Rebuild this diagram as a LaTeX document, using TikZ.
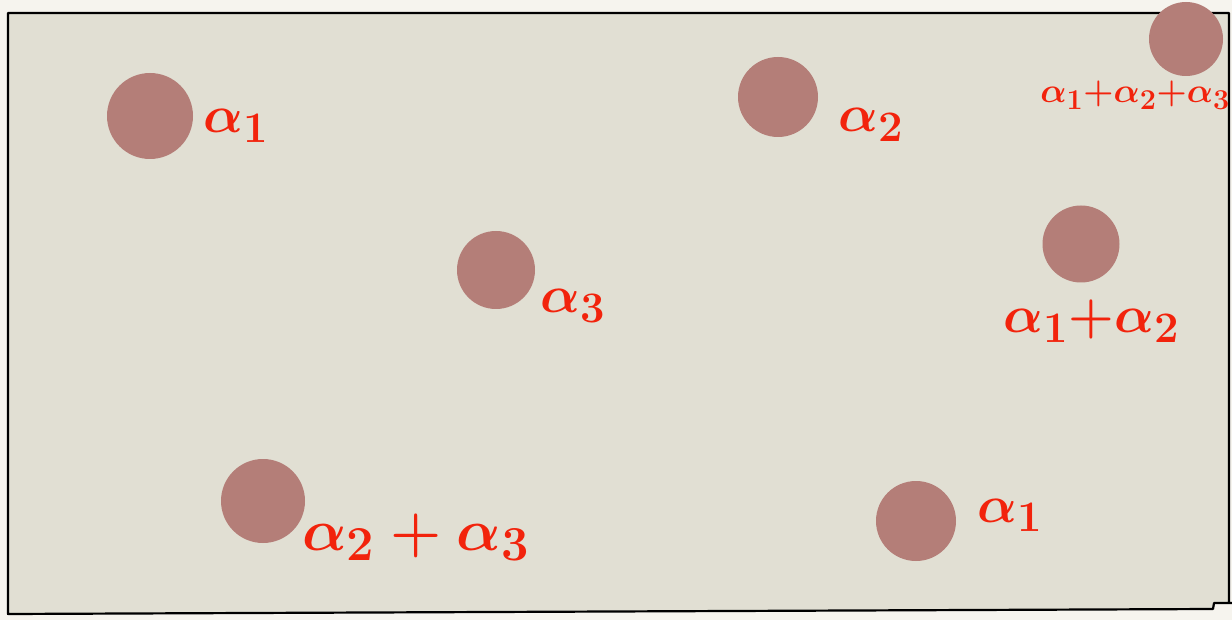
\documentclass[tikz,border=0pt]{standalone}
\usepackage{amsmath,amssymb}
\usepackage{tikz}
\usetikzlibrary{positioning}

\definecolor{paper}{HTML}{F6F4EE}
\definecolor{board}{HTML}{E1DFD3}
\definecolor{rootdot}{HTML}{B47E78}
\definecolor{ink}{HTML}{F2230C}

\tikzset{
  rootpt/.style={circle, fill=rootdot, inner sep=0pt, minimum size=#1},
  rootlbl/.style={text=ink, anchor=base west, inner sep=0pt,
    font=\Huge\boldmath, transform shape, scale=2.1},
}

\begin{document}
\begin{tikzpicture}[x=1pt, y=-1pt]
  \useasboundingbox (0,0) rectangle (1232,620);
  \fill[paper] (0,0) rectangle (1232,620);

  % Board
  \filldraw[fill=board, draw=black, line width=2.2pt, line join=round]
    (1232,603) -- (1214,603) -- (1213,609) -- (8,614) -- (8,13)
    -- (1229,13) -- (1229,603);

  % Roots
  \node[rootpt=86pt] (a1)   at (150,116)  {};
  \node[rootpt=80pt] (a2)   at (778,97)   {};
  \node[rootpt=74pt] (a123) at (1186,39)  {};
  \node[rootpt=78pt] (a3)   at (496,270)  {};
  \node[rootpt=77pt] (a12)  at (1081,244) {};
  \node[rootpt=84pt] (a23)  at (263,501)  {};
  \node[rootpt=80pt] (a1b)  at (916,521)  {};

  % Labels
  \node[rootlbl] (l1)   at (203,133)  {$\alpha_1$};
  \node[rootlbl] (l2)   at (838,132)  {$\alpha_2$};
  \node[rootlbl, scale=0.66] (l123) at (1040,103)
    {$\alpha_1{+}\alpha_2{+}\alpha_3$};
  \node[rootlbl] (l3)   at (540,313)  {$\alpha_3$};
  \node[rootlbl] (l12)  at (1003,333) {$\alpha_1{+}\alpha_2$};
  \node[rootlbl, scale=1.12] (l23) at (302,550)
    {$\alpha_2+\alpha_3$};
  \node[rootlbl] (l1b)  at (977,522)  {$\alpha_1$};
\end{tikzpicture}
\end{document}
